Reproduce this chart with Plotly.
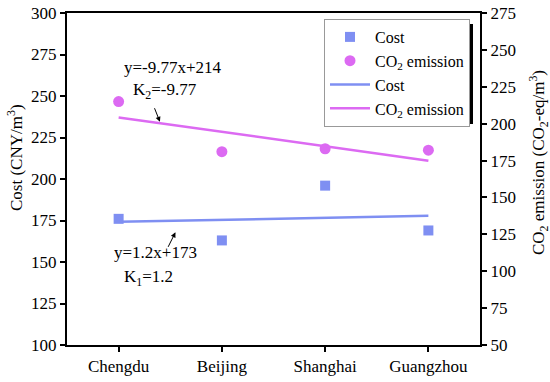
import plotly.graph_objects as go

cities = ["Chengdu", "Beijing", "Shanghai", "Guangzhou"]
x_idx = [1, 2, 3, 4]
cost = [176, 163, 196, 169]
co2 = [215, 181, 183, 182]
cost_fit = (1.2, 173)
co2_fit = (-9.77, 214)

BLUE = "#7f8ff2"
MAG = "#dc6af2"
FONT = "Liberation Serif, Times New Roman, serif"
FS = 17

cost_line = [cost_fit[0] * x + cost_fit[1] for x in x_idx]
co2_line = [co2_fit[0] * x + co2_fit[1] for x in x_idx]

fig = go.Figure()
fig.add_trace(go.Scatter(x=x_idx, y=cost, mode="markers", name="Cost",
                         marker=dict(symbol="square", size=10, color=BLUE)))
fig.add_trace(go.Scatter(x=x_idx, y=co2, mode="markers", name="CO<sub>2</sub> emission",
                         yaxis="y2", marker=dict(symbol="circle", size=11, color=MAG)))
fig.add_trace(go.Scatter(x=[x_idx[0], x_idx[-1]], y=[cost_line[0], cost_line[-1]], mode="lines",
                         name="Cost", line=dict(color=BLUE, width=2.5)))
fig.add_trace(go.Scatter(x=[x_idx[0], x_idx[-1]], y=[co2_line[0], co2_line[-1]], mode="lines",
                         name="CO<sub>2</sub> emission", yaxis="y2", line=dict(color=MAG, width=2.5)))

axis_common = dict(showline=True, linecolor="black", linewidth=2, ticks="outside",
                   ticklen=5, tickwidth=1.5, tickcolor="black", showgrid=False, zeroline=False,
                   automargin=False,
                   tickfont=dict(family=FONT, size=FS, color="black"))

def pxx(xp):
    return (xp - 67) / 413

def pxy(yp):
    return (345 - yp) / 332

fig.update_layout(
    width=550, height=382,
    margin=dict(l=67, r=70, t=13, b=37),
    paper_bgcolor="white", plot_bgcolor="white",
    font=dict(family=FONT, size=FS, color="black"),
    showlegend=True,
    xaxis=dict(range=[0.5, 4.5], tickvals=x_idx, ticktext=cities, mirror=True, **axis_common),
    yaxis=dict(range=[100, 300], dtick=25, **axis_common),
    yaxis2=dict(range=[50, 275], dtick=25, overlaying="y", side="right", **axis_common),
    legend=dict(x=pxx(324), y=pxy(19), xanchor="left", yanchor="top", bgcolor="white",
                bordercolor="#999999", borderwidth=1, tracegroupgap=0,
                font=dict(family=FONT, size=16), itemwidth=40),
)

# legend shadow
fig.add_shape(type="rect", xref="paper", yref="paper", x0=pxx(329), x1=pxx(473),
              y0=pxy(124), y1=pxy(24),
              fillcolor="black", line=dict(width=0), layer="above")

# arrows
fig.add_annotation(x=1.4, y=co2_fit[0] * 1.4 + co2_fit[1] + 1, xref="x", yref="y2",
                   ax=-6, ay=-15, text="", showarrow=True,
                   arrowhead=2, arrowsize=1, arrowwidth=1, arrowcolor="black")
fig.add_annotation(x=1.55, y=(cost_fit[0] * 1.55 + cost_fit[1]) - 7, xref="x", yref="y",
                   ax=-8, ay=16, text="", showarrow=True,
                   arrowhead=2, arrowsize=1, arrowwidth=1, arrowcolor="black")

def px_ann(xp, yp, text, angle=0):
    fig.add_annotation(x=pxx(xp), y=pxy(yp), xref="paper", yref="paper",
                       text=text, showarrow=False, font=dict(family=FONT, size=FS),
                       xanchor="center", yanchor="middle", textangle=angle)

px_ann(173, 67, "y=-9.77x+214")
px_ann(165, 91, "K<sub>2</sub>=-9.77")
px_ann(155, 252, "y=1.2x+173")
px_ann(148, 278, "K<sub>1</sub>=1.2")
px_ann(15, 157, "Cost (CNY/m<sup>3</sup>)", -90)
px_ann(539, 163, "CO<sub>2</sub> emission (CO<sub>2</sub>-eq/m<sup>3</sup>)", -90)

fig.write_html("out.html", config={"displayModeBar": False},
               post_script="document.body.style.margin='0';")
